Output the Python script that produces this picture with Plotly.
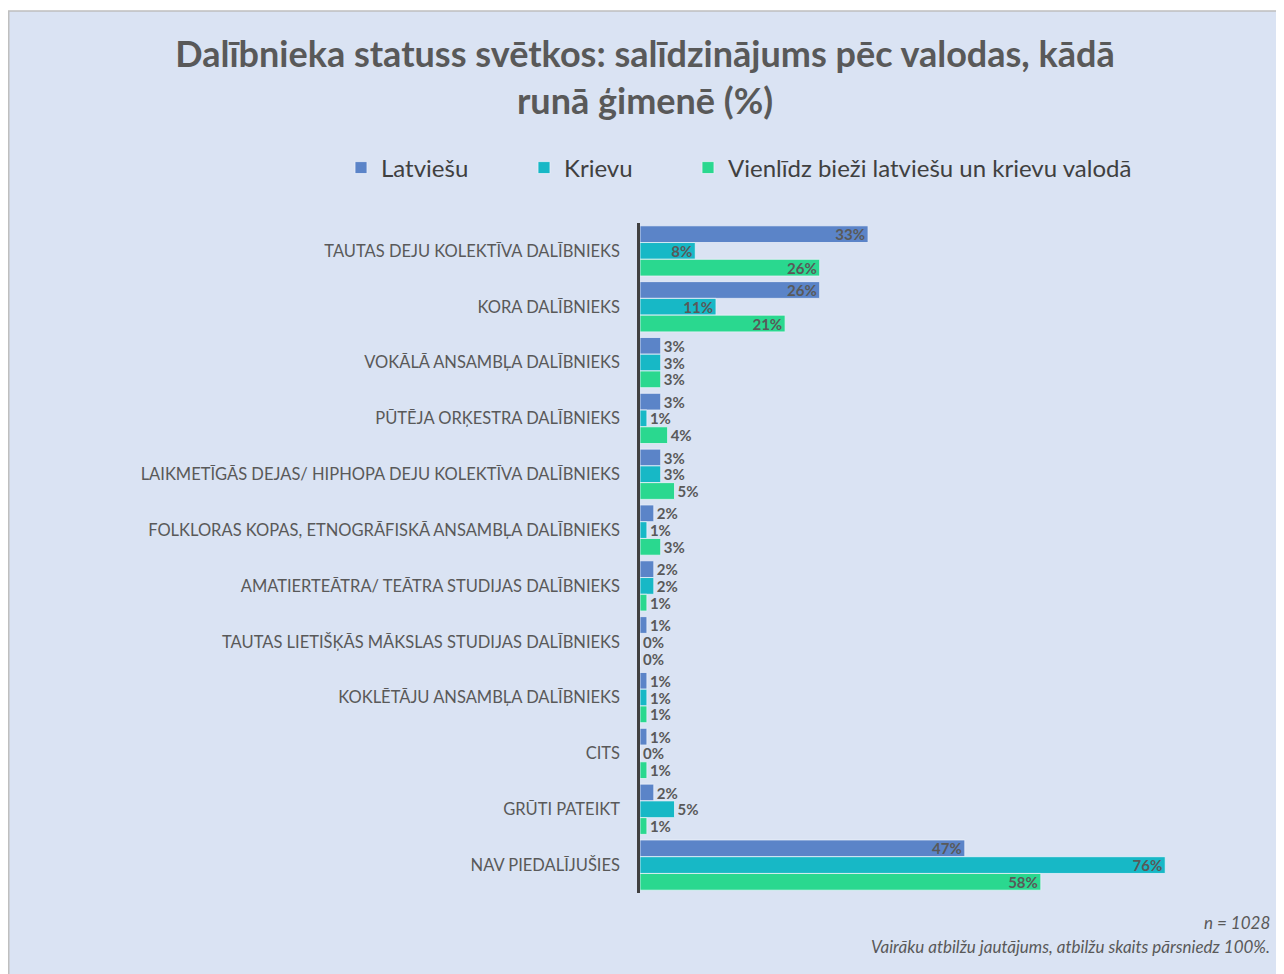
import plotly.graph_objects as go

categories = [
    "TAUTAS DEJU KOLEKTĪVA DALĪBNIEKS",
    "KORA DALĪBNIEKS",
    "VOKĀLĀ ANSAMBĻA DALĪBNIEKS",
    "PŪTĒJA ORĶESTRA DALĪBNIEKS",
    "LAIKMETĪGĀS DEJAS/ HIPHOPA DEJU KOLEKTĪVA DALĪBNIEKS",
    "FOLKLORAS KOPAS, ETNOGRĀFISKĀ ANSAMBĻA DALĪBNIEKS",
    "AMATIERTEĀTRA/ TEĀTRA STUDIJAS DALĪBNIEKS",
    "TAUTAS LIETIŠĶĀS MĀKSLAS STUDIJAS DALĪBNIEKS",
    "KOKLĒTĀJU ANSAMBĻA DALĪBNIEKS",
    "CITS",
    "GRŪTI PATEIKT",
    "NAV PIEDALĪJUŠIES",
]
latviesu = [33, 26, 3, 3, 3, 2, 2, 1, 1, 1, 2, 47]
krievu = [8, 11, 3, 1, 3, 1, 2, 0, 1, 0, 5, 76]
abas = [26, 21, 3, 4, 5, 3, 1, 0, 1, 1, 1, 58]
series_names = ["Latviešu", "Krievu", "Vienlīdz bieži latviešu un krievu valodā"]
series_values = [latviesu, krievu, abas]
colors = ["#5B84C8", "#17B8C6", "#2AD88F"]

# figure is placed at page offset (8, 8) by the browser's default body margin
OFF = 8
W, H = 1284 - OFF, 974 - OFF
L, R, T, B = 640 - OFF, 1262 - OFF, 223 - OFF, 893 - OFF
FONT = "Lato"
TXT = "#595959"

fig = go.Figure()
legend_ids = ["legend", "legend2", "legend3"]
for name, vals, col, lid in zip(series_names, series_values, colors, legend_ids):
    fig.add_trace(go.Bar(
        y=categories, x=vals, name=name, orientation="h",
        marker=dict(color=col, line=dict(color="rgba(235,240,250,0.8)", width=1)),
        text=[f"{v}%" for v in vals],
        textposition=["inside" if v >= 8 else "outside" for v in vals],
        insidetextanchor="end",
        textangle=0,
        textfont=dict(family=FONT, size=15, color=TXT, weight="bold"),
        constraintext="none",
        cliponaxis=False,
        legend=lid,
        hoverinfo="skip",
    ))


def cx(px):
    return (px - OFF) / W


def cy(py):
    return 1 - (py - OFF) / H


legend_common = dict(
    orientation="h", xref="container", yref="container",
    xanchor="left", yanchor="middle",
    font=dict(family=FONT, size=24, color="#404040"),
    bgcolor="rgba(0,0,0,0)", itemwidth=30,
)
fig.update_layout(
    width=W, height=H,
    margin=dict(l=L, r=W - R, t=T, b=H - B),
    paper_bgcolor="white",
    plot_bgcolor="rgba(0,0,0,0)",
    barmode="group", bargap=0.1, bargroupgap=0,
    title=dict(
        text="Dalībnieka statuss svētkos: salīdzinājums pēc valodas, kādā<br>runā ģimenē (%)",
        xref="container", yref="container", x=cx(645), y=cy(67),
        xanchor="center", yanchor="top",
        font=dict(family=FONT, size=36, color=TXT, weight="bold"),
    ),
    legend=dict(x=cx(341), y=cy(168), **legend_common),
    legend2=dict(x=cx(524), y=cy(168), **legend_common),
    legend3=dict(x=cx(688), y=cy(168), **legend_common),
    xaxis=dict(range=[0, 90], visible=False, showgrid=False, zeroline=False),
    yaxis=dict(
        autorange="reversed", showline=True, linecolor="#404040", linewidth=2.5,
        showgrid=False, ticks="", ticklabelstandoff=14,
        tickfont=dict(family=FONT, size=16.5, color=TXT),
    ),
    shapes=[dict(
        type="rect", xref="paper", yref="paper", layer="below",
        x0=(0.75 - L) / (R - L), x1=(W + 10 - L) / (R - L),
        y0=(B - (H + 10)) / (B - T), y1=(B - 3) / (B - T),
        fillcolor="#DAE3F3", line=dict(color="#BFBFBF", width=1.5),
    )],
    annotations=[
        dict(text="<i>n = 1028</i>", xref="paper", yref="paper",
             x=(1272 - OFF - L) / (R - L), y=(B - (922 - OFF)) / (B - T),
             xanchor="right", yanchor="middle", showarrow=False,
             font=dict(family=FONT, size=17, color=TXT)),
        dict(text="<i>Vairāku atbilžu jautājums, atbilžu skaits pārsniedz 100%.</i>",
             xref="paper", yref="paper",
             x=(1272 - OFF - L) / (R - L), y=(B - (946 - OFF)) / (B - T),
             xanchor="right", yanchor="middle", showarrow=False,
             font=dict(family=FONT, size=17, color=TXT)),
    ],
    showlegend=True,
)
fig.write_html("out.html")
